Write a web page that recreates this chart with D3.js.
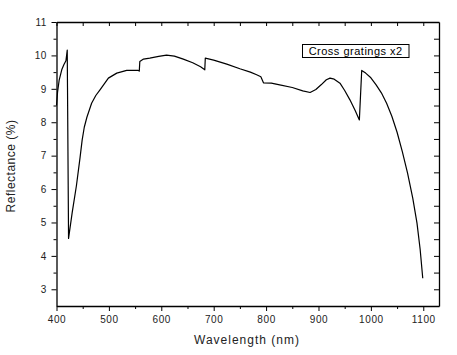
<!DOCTYPE html>
<html>
<head>
<meta charset="utf-8">
<script src="https://cdn.jsdelivr.net/npm/d3@7"></script>
<style>
  html, body { margin: 0; padding: 0; background: #fff; }
  svg { display: block; }
  text { font-family: "Liberation Sans", Arial, sans-serif; }
</style>
</head>
<body>
<svg id="chart" width="457" height="355"></svg>
<script>
const wavelength = [400, 402, 405, 410, 414, 418, 420.5, 421, 423, 430, 438, 445, 449, 453, 458, 467, 475, 483, 499, 515, 534, 556, 558, 559, 566, 578, 595, 610, 625, 642, 660, 675, 683, 684, 700, 725, 750, 770, 782, 790, 795, 810, 826, 850, 870, 884, 895, 905, 915, 922, 930, 941, 950, 960, 970, 978, 982.5, 990, 1000, 1010, 1020, 1030, 1040, 1050, 1060, 1070, 1080, 1088, 1094, 1099];
const reflectance = [8.50, 8.90, 9.25, 9.57, 9.72, 9.84, 10.16, 9.05, 4.52, 5.30, 6.10, 6.95, 7.47, 7.85, 8.15, 8.57, 8.80, 8.97, 9.32, 9.47, 9.55, 9.55, 9.53, 9.82, 9.89, 9.92, 9.97, 10.01, 9.98, 9.89, 9.78, 9.66, 9.57, 9.92, 9.86, 9.74, 9.60, 9.50, 9.42, 9.36, 9.18, 9.17, 9.12, 9.04, 8.94, 8.89, 8.98, 9.12, 9.27, 9.32, 9.29, 9.17, 8.95, 8.67, 8.35, 8.07, 9.55, 9.47, 9.33, 9.12, 8.88, 8.57, 8.18, 7.70, 7.12, 6.48, 5.72, 4.98, 4.20, 3.33];
const xTicks = [400, 500, 600, 700, 800, 900, 1000, 1100];
const yTicks = [3, 4, 5, 6, 7, 8, 9, 10, 11];
const xLabel = "Wavelength (nm)";
const yLabel = "Reflectance (%)";
const legendLabel = "Cross gratings x2";

(function () {
const svg = d3.select("#chart");
const pL = 56.5, pR = 439, pT = 22, pB = 306;
const x = d3.scaleLinear().domain([400, 1130]).range([pL, pR]);
const y = d3.scaleLinear().domain([2.5, 11]).range([pB, pT]);

const textColor = "#222";
const fontFam = '"Liberation Sans", Arial, sans-serif';

const xMinor = d3.range(450, 1130, 100);
const yMinor = d3.range(3.5, 11, 1);
const xAll = d3.range(400, 1131, 50);
const yAll = d3.range(3, 11.01, 0.5);

// Bottom axis
const gB = svg.append("g").attr("transform", `translate(0,${pB})`)
  .call(d3.axisBottom(x).tickValues(xTicks).tickFormat(d3.format("d")).tickSize(5).tickPadding(5).tickSizeOuter(0));
gB.selectAll("text").attr("font-size", "10px").attr("fill", textColor).attr("letter-spacing", "0.6px")
  .style("font-family", fontFam);
svg.append("g").attr("transform", `translate(0,${pB})`)
  .call(d3.axisBottom(x).tickValues(xMinor).tickSize(3).tickFormat("").tickSizeOuter(0))
  .select(".domain").remove();

// Left axis
const gL = svg.append("g").attr("transform", `translate(${pL},0)`)
  .call(d3.axisLeft(y).tickValues(yTicks).tickFormat(d3.format("d")).tickSize(5).tickPadding(5).tickSizeOuter(0));
gL.selectAll("text").attr("font-size", "10px").attr("fill", textColor).attr("letter-spacing", "0.3px")
  .style("font-family", fontFam);
svg.append("g").attr("transform", `translate(${pL},0)`)
  .call(d3.axisLeft(y).tickValues(yMinor).tickSize(3).tickFormat("").tickSizeOuter(0))
  .select(".domain").remove();

// Top axis (inward ticks)
svg.append("g").attr("transform", `translate(0,${pT})`)
  .call(d3.axisTop(x).tickValues(xAll).tickSize(-4).tickFormat("").tickSizeOuter(0));

// Right axis (inward ticks)
svg.append("g").attr("transform", `translate(${pR},0)`)
  .call(d3.axisRight(y).tickValues(yAll).tickSize(-5).tickFormat("").tickSizeOuter(0));

svg.selectAll(".domain").attr("stroke", "#000").attr("stroke-width", 1.3);
svg.selectAll(".tick line").attr("stroke", "#000").attr("stroke-width", 1);

// Data line
const pts = wavelength.map((w, i) => [w, reflectance[i]]);
svg.append("path")
  .datum(pts)
  .attr("fill", "none")
  .attr("stroke", "#000")
  .attr("stroke-width", 1.2)
  .attr("stroke-linejoin", "round")
  .attr("d", d3.line().x(d => x(d[0])).y(d => y(d[1])));

// Axis titles
svg.append("text")
  .attr("x", 247).attr("y", 344)
  .attr("text-anchor", "middle")
  .attr("font-size", "12px")
  .attr("letter-spacing", "1px")
  .attr("fill", textColor)
  .text(xLabel);

svg.append("text")
  .attr("transform", "translate(15,166) rotate(-90)")
  .attr("text-anchor", "middle")
  .attr("font-size", "12px")
  .attr("letter-spacing", "0.5px")
  .attr("fill", textColor)
  .text(yLabel);

// Legend box
svg.append("rect")
  .attr("x", 302.5).attr("y", 44.5)
  .attr("width", 106.5).attr("height", 13)
  .attr("fill", "#fff").attr("stroke", "#000").attr("stroke-width", 1);
svg.append("text")
  .attr("x", 355.7).attr("y", 55)
  .attr("text-anchor", "middle")
  .attr("font-size", "11px")
  .attr("letter-spacing", "0.5px")
  .attr("fill", "#000")
  .text(legendLabel);
})();
</script>
</body>
</html>
